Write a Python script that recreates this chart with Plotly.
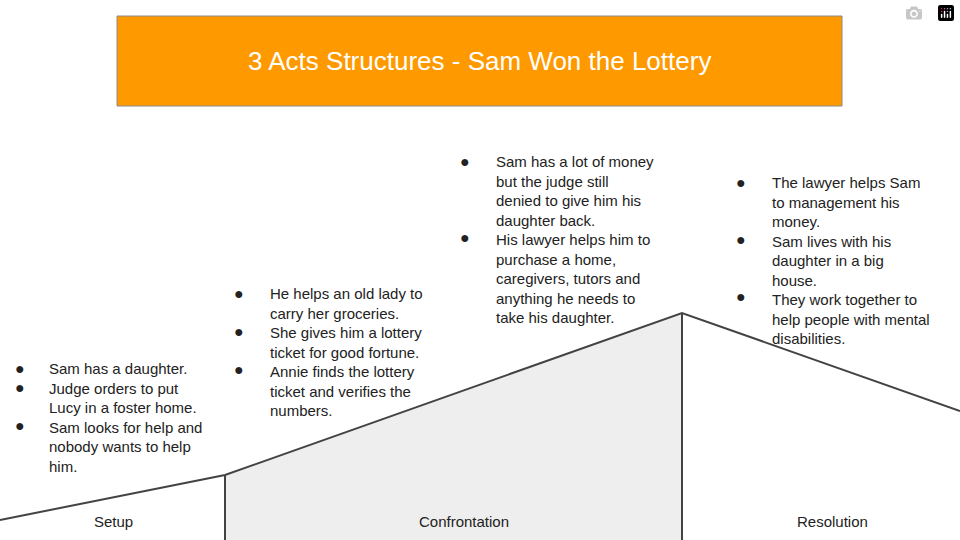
import plotly.graph_objects as go

# 物語の山（線の頂点）
arc_x = [0, 225, 682, 960]
arc_y = [520, 475, 313, 411]

title = "3 Acts Structures - Sam Won the Lottery"
acts = ["Setup", "Confrontation", "Resolution"]
act_x = [113, 464, 832]

# 各幕の箇条書き（<br>は折り返し）
setup_items = ["Sam has a daughter.",
               "Judge orders to put<br>Lucy in a foster home.",
               "Sam looks for help and<br>nobody wants to help<br>him."]
confront_items = ["He helps an old lady to<br>carry her groceries.",
                  "She gives him a lottery<br>ticket for good fortune.",
                  "Annie finds the lottery<br>ticket and verifies the<br>numbers."]
climax_items = ["Sam has a lot of money<br>but the judge still<br>denied to give him his<br>daughter back.",
                "His lawyer helps him to<br>purchase a home,<br>caregivers, tutors and<br>anything he needs to<br>take his daughter."]
resolution_items = ["The lawyer helps Sam<br>to management his<br>money.",
                    "Sam lives with his<br>daughter in a big<br>house.",
                    "They work together to<br>help people with mental<br>disabilities."]

blocks = [(setup_items, 20, 47, 368),
          (confront_items, 239, 268, 293),
          (climax_items, 465, 494, 161),
          (resolution_items, 741, 770, 182)]

LINE = 19
FONT = "Liberation Sans, Arial"

fig = go.Figure()
# 対立部分の灰色の塗り
fig.add_trace(go.Scatter(x=[arc_x[1], arc_x[2], arc_x[2], arc_x[1]],
                         y=[arc_y[1], arc_y[2], 540, 540],
                         fill="toself", fillcolor="#eeeeee", mode="lines",
                         line=dict(width=0), hoverinfo="skip"))
fig.add_trace(go.Scatter(x=arc_x, y=arc_y, mode="lines",
                         line=dict(color="#434343", width=2), hoverinfo="skip"))
for i in (1, 2):
    fig.add_trace(go.Scatter(x=[arc_x[i], arc_x[i]], y=[arc_y[i], 540], mode="lines",
                             line=dict(color="#434343", width=2), hoverinfo="skip"))

fig.add_shape(type="rect", x0=117, x1=842, y0=16, y1=106,
              fillcolor="#ff9900", line=dict(color="#8a8a8a", width=1))
fig.add_annotation(x=479.5, y=61, text=title, showarrow=False,
                   font=dict(size=26, color="white", family=FONT))

for name, x in zip(acts, act_x):
    fig.add_annotation(x=x, y=521, text=name, showarrow=False,
                       font=dict(size=15, color="#222222", family=FONT))

for items, bx, tx, y0 in blocks:
    lines = 0
    for item in items:
        fig.add_annotation(x=bx, y=y0 + lines * LINE, text="●", showarrow=False,
                           font=dict(size=16, color="#222222", family=FONT))
        lines += item.count("<br>") + 1
    fig.add_annotation(x=tx, y=y0 - LINE / 2 - 1, text="<br>".join(items),
                       showarrow=False, xanchor="left", yanchor="top", align="left",
                       font=dict(size=15, color="#222222", family=FONT))

fig.update_layout(autosize=True, margin=dict(l=0, r=0, t=0, b=0),
                  plot_bgcolor="white", paper_bgcolor="white", showlegend=False,
                  xaxis=dict(range=[0, 960], visible=False, fixedrange=True),
                  yaxis=dict(range=[540, 0], visible=False, fixedrange=True))

fig.write_html("out.html", default_width="100vw", default_height="100vh",
               post_script="document.body.style.margin='0';"
                           "window.dispatchEvent(new Event('resize'));")
